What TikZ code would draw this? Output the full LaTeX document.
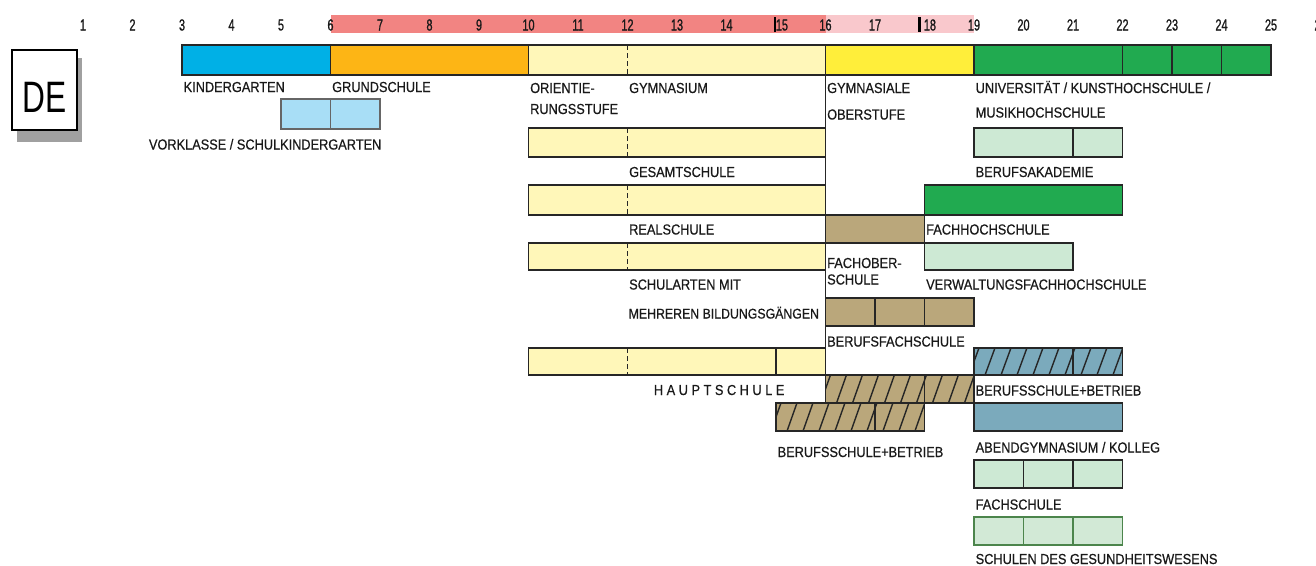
\documentclass[tikz,border=0pt]{standalone}
\usepackage{fontspec}
\setmainfont{Liberation Sans}[FakeStretch=0.88,FakeBold=0.6]
\newfontfamily\agefont{Liberation Sans}[FakeStretch=0.68,FakeBold=1]
\newfontfamily\deefont{Liberation Sans}[FakeStretch=0.72]

\definecolor{kgblue}{RGB}{0,176,230}
\definecolor{gsorange}{RGB}{253,181,21}
\definecolor{paleyellow}{RGB}{255,247,185}
\definecolor{gymyellow}{RGB}{255,238,58}
\definecolor{unigreen}{RGB}{33,170,80}
\definecolor{palegreen}{RGB}{205,233,212}
\definecolor{healthgreen}{RGB}{210,233,214}
\definecolor{tanbox}{RGB}{186,167,123}
\definecolor{bluegrey}{RGB}{123,170,188}
\definecolor{vorblue}{RGB}{168,222,246}
\definecolor{bandred}{RGB}{242,132,130}
\definecolor{bandpink}{RGB}{249,200,204}
\definecolor{shadowgrey}{RGB}{160,160,160}

\begin{document}
\begin{tikzpicture}[x=49.5pt,y=-1pt,
	bar/.style={draw=black!85,line width=1.6pt},
	thin/.style={draw=black!85,line width=1.3pt},
	cut/.style={draw=black!85,line width=1.2pt,dash pattern=on 5pt off 3pt},
	hatch/.style={draw=black!85,line width=1.4pt},
	lbl/.style={anchor=west,xshift=1.5pt,text height=10pt,text depth=0pt,font=\fontsize{14.5}{16}\selectfont,text=black!90},
	age/.style={text height=11pt,text depth=0pt,font=\agefont\fontsize{16}{18}\selectfont,text=black!90}]
		\tikzstyle{every node}+=[inner sep=0pt]
		\useasboundingbox (-0.6768,0) rectangle (25.909,565);
		
		% age scale
		\fill [bandred] (6,15) rectangle (16,33);
		\fill [bandpink] (16,15) rectangle (19,33);
		\foreach \n in {1,...,14,16,17,19,20,...,26}
			\draw (\n,25) node[age] (a\n) {\n};
		\draw (15.12,25) node[age] (a15) {15};
		\draw (18.11,25) node[age] (a18) {18};
		\draw [line width=2.5pt] (14.98,17) -- (14.98,32);
		\draw [line width=2.5pt] (17.9,17) -- (17.9,32);
		
		% country box
		\fill [shadowgrey] (-0.33,58) rectangle (0.98,142);
		\draw [line width=1.6pt,fill=white] (-0.434,50) rectangle (0.879,130);
		\draw (0.222,96.5) node[text height=32pt,text depth=0pt,font=\deefont\fontsize{44}{44}\selectfont] (de) {DE};
		
		\draw [thin] (16,75) -- (16,375);
		
		% main line
		\draw [bar,fill=kgblue] (3,45) rectangle (6,75);
		\draw [bar,fill=gsorange] (6,45) rectangle (10,75);
		\draw [bar,fill=paleyellow] (10,45) rectangle (16,75);
		\draw [cut] (12,45) -- (12,75);
		\draw [bar,fill=gymyellow] (16,45) rectangle (19,75);
		\draw [bar,fill=unigreen] (19,45) rectangle (25,75);
		\foreach \x in {22,23,24}
			\draw [thin] (\x,45) -- (\x,75);
		
		\draw [draw=black!60,line width=1.2pt,fill=vorblue] (5,99) rectangle (7,129);
		\draw [draw=black!60,line width=1.2pt] (6,99) -- (6,129);
		
		% lower secondary
		\foreach \ya/\yb in {128/157,185/215,243/270,348/375} {
			\draw [bar,fill=paleyellow] (10,\ya) rectangle (16,\yb);
			\draw [cut] (12,\ya) -- (12,\yb);
		}
		\draw [thin] (15,348) -- (15,375);
		
		% upper secondary and tertiary
		\draw [bar,fill=palegreen] (19,128) rectangle (22,157);
		\draw [thin] (21,128) -- (21,157);
		\draw [bar,fill=unigreen] (18,185) rectangle (22,215);
		\draw [bar,fill=tanbox] (16,215) rectangle (18,243);
		\draw [bar,fill=palegreen] (18,243) rectangle (21,270);
		\draw [bar,fill=tanbox] (16,298) rectangle (19,326);
		\foreach \x in {17,18}
			\draw [thin] (\x,298) -- (\x,326);
		
		% dual system
		\foreach \xa/\xb/\ya/\yb/\col in {19/22/348/375/bluegrey,16/19/375/403/tanbox,15/18/403/431/tanbox} {
			\begin{scope}
				\clip (\xa,\ya) rectangle (\xb,\yb);
				\fill [\col] (\xa,\ya) rectangle (\xb,\yb);
				\foreach \h in {0,...,10}
					\draw [hatch] (\xa+\h*0.323-0.1,\yb) -- ++(0.2,\ya-\yb);
			\end{scope}
			\draw [bar] (\xa,\ya) rectangle (\xb,\yb);
		}
		\draw [thin] (21,348) -- (21,375);
		\draw [thin] (18,375) -- (18,403);
		\draw [thin] (17,403) -- (17,431);
		
		\draw [bar,fill=bluegrey] (19,403) rectangle (22,431);
		\draw [bar,fill=palegreen] (19,460) rectangle (22,488);
		\draw [bar,draw=black!45!green!40!gray,fill=healthgreen] (19,517) rectangle (22,545);
		\foreach \x in {20,21} {
			\draw [thin] (\x,460) -- (\x,488);
			\draw [thin,draw=black!45!green!40!gray] (\x,517) -- (\x,545);
		}
		
		% labels
		\draw (3,87) node[lbl] (kg) {KINDERGARTEN};
		\draw (6,87) node[lbl] (gs) {GRUNDSCHULE};
		\draw (10,88) node[lbl] (os1) {ORIENTIE-};
		\draw (10,109) node[lbl] (os2) {RUNGSSTUFE};
		\draw (12,88) node[lbl] (gym) {GYMNASIUM};
		\draw (16,88) node[lbl] (go1) {GYMNASIALE};
		\draw (16,114.5) node[lbl] (go2) {OBERSTUFE};
		\draw (19,88) node[lbl] (uni1) {UNIVERSITÄT / KUNSTHOCHSCHULE /};
		\draw (19,112.5) node[lbl] (uni2) {MUSIKHOCHSCHULE};
		\draw (7,144.5) node[lbl,anchor=east,xshift=0pt] (vk) {VORKLASSE / SCHULKINDERGARTEN};
		\draw (12,172) node[lbl] (ges) {GESAMTSCHULE};
		\draw (19,172) node[lbl] (ba) {BERUFSAKADEMIE};
		\draw (12,229.5) node[lbl] (rs) {REALSCHULE};
		\draw (18,229.5) node[lbl] (fh) {FACHHOCHSCHULE};
		\draw (16,263) node[lbl] (fos1) {FACHOBER-};
		\draw (16,279.5) node[lbl] (fos2) {SCHULE};
		\draw (12,284.5) node[lbl] (sm1) {SCHULARTEN MIT};
		\draw (12,313.5) node[lbl,xshift=-0.5pt,font=\fontsize{14}{16}\selectfont] (sm2) {MEHREREN BILDUNGSGÄNGEN};
		\draw (18,284.5) node[lbl] (vfh) {VERWALTUNGSFACHHOCHSCHULE};
		\draw (16,341.5) node[lbl] (bfs) {BERUFSFACHSCHULE};
		\draw (12.5,390) node[lbl] (hs) {H A U P T S C H U L E};
		\draw (19,390.5) node[lbl] (bsb1) {BERUFSSCHULE+BETRIEB};
		\draw (15,452) node[lbl] (bsb2) {BERUFSSCHULE+BETRIEB};
		\draw (19,447.5) node[lbl] (abg) {ABENDGYMNASIUM / KOLLEG};
		\draw (19,504.5) node[lbl] (fs) {FACHSCHULE};
		\draw (19,559) node[lbl] (sgw) {SCHULEN DES GESUNDHEITSWESENS};
		
	\end{tikzpicture}
\end{document}
